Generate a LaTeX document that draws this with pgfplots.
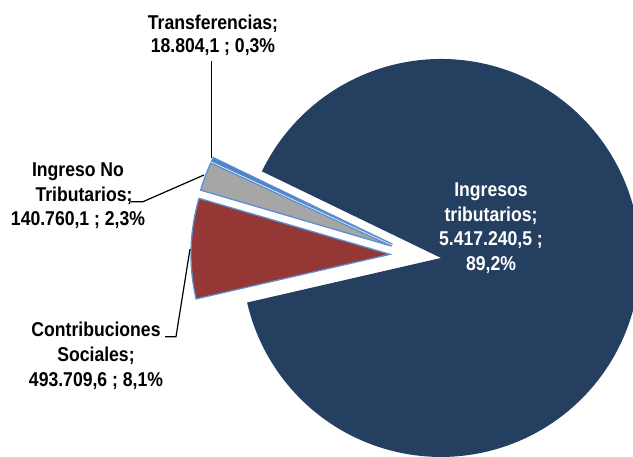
\documentclass[border=0pt]{standalone}
\usepackage{fontspec}
\setmainfont{Liberation Sans}[FakeStretch=0.88]
\usepackage{pgfplots}
\usepackage{pgfplotstable}
\pgfplotsset{compat=1.18}

\definecolor{cnavy}{HTML}{243F60}
\definecolor{cred}{HTML}{953735}
\definecolor{cgray}{HTML}{A6A6A6}
\definecolor{cblue}{HTML}{4F81BD}
\definecolor{cedge}{HTML}{5B8FD0}
\tikzset{lbl/.style={font=\fontsize{20}{24}\selectfont\bfseries, anchor=base, inner sep=0pt}}

% values of the four sources of income
\pgfplotstableread{
cat value
1 5417240.5
2 493709.6
3 140760.1
4 18804.1
}\pietable

\pgfplotstablegetelem{0}{value}\of\pietable \let\vA\pgfplotsretval
\pgfplotstablegetelem{1}{value}\of\pietable \let\vB\pgfplotsretval
\pgfplotstablegetelem{2}{value}\of\pietable \let\vC\pgfplotsretval
\pgfplotstablegetelem{3}{value}\of\pietable \let\vD\pgfplotsretval
\edef\tot{\fpeval{\vA+\vB+\vC+\vD}}
% pie geometry (1 unit = 1pt)
\def\cx{415.6}\def\cy{201.9}\def\R{199}\def\ex{25.6}
\def\aS{154.2}
\edef\aA{\fpeval{\aS-360*\vA/\tot}}
\edef\aB{\fpeval{\aA-360*\vB/\tot}}
\edef\aC{\fpeval{\aB-360*\vC/\tot}}
\edef\aD{\fpeval{\aC-360*\vD/\tot}}
\edef\pAx{\fpeval{\cx+\ex*cosd((\aS+\aA)/2)}}\edef\pAy{\fpeval{\cy+\ex*sind((\aS+\aA)/2)}}
\edef\pBx{\fpeval{\cx+\ex*cosd((\aA+\aB)/2)}}\edef\pBy{\fpeval{\cy+\ex*sind((\aA+\aB)/2)}}
\edef\pCx{\fpeval{\cx+\ex*cosd((\aB+\aC)/2)}}\edef\pCy{\fpeval{\cy+\ex*sind((\aB+\aC)/2)}}
\edef\pDx{\fpeval{\cx+\ex*cosd((\aC+\aD)/2)}}\edef\pDy{\fpeval{\cy+\ex*sind((\aC+\aD)/2)}}

\begin{document}
\begin{tikzpicture}
\begin{axis}[
  scale only axis, width=633pt, height=457pt,
  xmin=0, xmax=633, ymin=0, ymax=457,
  hide axis, clip=true,
]
% slices
\addplot[fill=cnavy, draw=none, domain=\aA:\aS, samples=240, variable=\t]
  ({\pAx+\R*cos(t)},{\pAy+\R*sin(t)}) -- (axis cs:\pAx,\pAy) -- cycle;
\addplot[fill=cred, draw=cedge, line width=1.3pt, domain=\aB:\aA, samples=40, variable=\t]
  ({\pBx+\R*cos(t)},{\pBy+\R*sin(t)}) -- (axis cs:\pBx,\pBy) -- cycle;
\addplot[fill=cgray, draw=cedge, line width=1.3pt, domain=\aC:\aB, samples=20, variable=\t]
  ({\pCx+\R*cos(t)},{\pCy+\R*sin(t)}) -- (axis cs:\pCx,\pCy) -- cycle;
\addplot[fill=cblue, draw=cedge, line width=1.3pt, domain=\aD:\aC, samples=5, variable=\t]
  ({\pDx+\R*cos(t)},{\pDy+\R*sin(t)}) -- (axis cs:\pDx,\pDy) -- cycle;

% leader lines
\addplot[black, line width=1.2pt] coordinates {(211.5,396) (211.5,299)};
\addplot[black, line width=1.2pt] coordinates {(131,255.3) (143,255.3) (204,282)};
\addplot[black, line width=1.2pt] coordinates {(165,120.3) (176,120.3) (190,208)};

% data labels
\node[lbl] at (axis cs:213,427.5) {Transferencias;};
\node[lbl] at (axis cs:213,404) {18.804,1 ; 0,3\%};
\node[lbl] at (axis cs:78,280) {Ingreso No};
\node[lbl] at (axis cs:84,255.5) {Tributarios;};
\node[lbl] at (axis cs:78,231.5) {140.760,1 ; 2,3\%};
\node[lbl] at (axis cs:96,120.3) {Contribuciones};
\node[lbl] at (axis cs:96,95.3) {Sociales;};
\node[lbl] at (axis cs:96,70.3) {493.709,6 ; 8,1\%};
\node[lbl, text=white] at (axis cs:491,260.3) {Ingresos};
\node[lbl, text=white] at (axis cs:491,235.5) {tributarios;};
\node[lbl, text=white] at (axis cs:491,211) {5.417.240,5 ;};
\node[lbl, text=white] at (axis cs:491,186) {89,2\%};
\end{axis}
\pgfresetboundingbox
\useasboundingbox (current axis.south west) rectangle (current axis.north east);
\end{tikzpicture}
\end{document}
